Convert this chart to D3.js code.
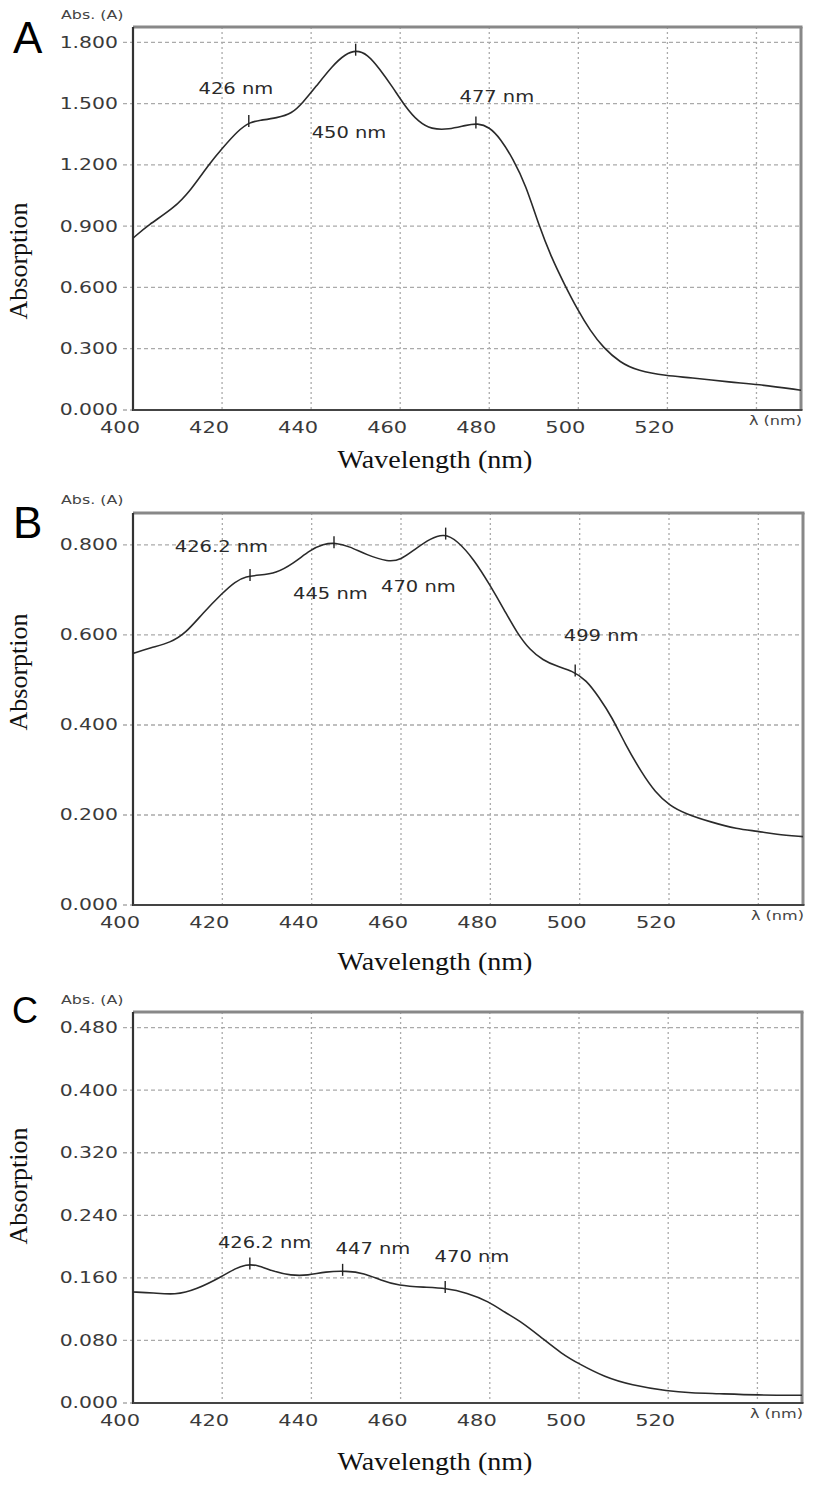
<!DOCTYPE html>
<html><head><meta charset="utf-8">
<script src="https://cdn.jsdelivr.net/npm/d3@7"></script>
<style>body{margin:0;background:#fff}</style>
</head><body>
<svg id="chart" width="827" height="1489"></svg>
<script>
// ---------- DATA ----------
const nmA  = [400,403.4,409.2,413,416.9,420,423.6,426.3,428.4,432.3,435.7,438.1,441,444.8,447.7,450.1,452.6,455.4,458.3,461.2,464.1,467,470.9,474.7,477.4,480,482.5,485.3,488.2,491.1,494,496.9,499.8,502.7,505.6,509.4,513.3,519.9,524.9,534.5,539.9,550];
const absA = [0.841,0.906,0.988,1.077,1.199,1.280,1.369,1.410,1.418,1.430,1.451,1.504,1.581,1.686,1.743,1.762,1.743,1.670,1.581,1.483,1.410,1.374,1.373,1.394,1.404,1.386,1.329,1.231,1.101,0.906,0.744,0.614,0.492,0.387,0.305,0.232,0.192,0.167,0.159,0.135,0.127,0.097];

const nmB  = [400,404,408.4,411.8,415.6,420,422.9,425.3,428.2,432,435.9,439.7,442.6,445.3,448.4,452.3,457.1,460,462.9,466.7,469.6,472.5,476.4,479.9,483.1,486,488.9,491.8,494.7,498.4,501.5,504.3,507.2,510.1,514,516.9,520.1,523.6,529.4,535.2,540,543.8,550];
const absB = [0.559,0.572,0.583,0.604,0.648,0.693,0.719,0.730,0.733,0.737,0.759,0.789,0.802,0.805,0.797,0.778,0.762,0.767,0.789,0.815,0.825,0.811,0.767,0.711,0.656,0.604,0.566,0.544,0.531,0.520,0.500,0.462,0.418,0.359,0.292,0.251,0.221,0.203,0.184,0.169,0.164,0.157,0.152];

const nmC  = [400,404.5,409.4,414.2,420,422.9,425.3,427.7,431.5,435.4,439.2,443.1,447.9,451.8,455.6,459.5,465.3,470.1,474.9,479.7,483.6,486.5,491.3,496.1,500,505.8,511.6,520.1,525.1,530.9,540.1,550];
const absC = [0.142,0.141,0.138,0.145,0.162,0.172,0.177,0.177,0.168,0.163,0.163,0.168,0.169,0.166,0.157,0.150,0.148,0.147,0.141,0.130,0.115,0.106,0.085,0.063,0.050,0.033,0.023,0.015,0.013,0.012,0.010,0.010];

// peak markers: wavelength, absorbance at peak, label text
const peaksA = [[426,1.410,"426 nm"],[450,1.759,"450 nm"],[477,1.402,"477 nm"]];
const peaksB = [[426.2,0.731,"426.2 nm"],[445,0.804,"445 nm"],[470,0.823,"470 nm"],[499,0.519,"499 nm"]];
const peaksC = [[426.2,0.177,"426.2 nm"],[447,0.169,"447 nm"],[470,0.147,"470 nm"]];
// label anchor points (data units: wavelength, absorbance)
const labelPosA = [[423.1,1.571],[448.5,1.356],[481.7,1.532]];
const labelPosB = [[419.8,0.796],[444.2,0.693],[463.9,0.707],[504.8,0.598]];
const labelPosC = [[429.5,0.205],[453.8,0.198],[476.0,0.187]];

const xTickValues = [400,420,440,460,480,500,520];
const xGridValues = [420,440,460,480,500,520,540];
const yTicksA = [0,0.3,0.6,0.9,1.2,1.5,1.8];
const yTicksB = [0,0.2,0.4,0.6,0.8];
const yTicksC = [0,0.08,0.16,0.24,0.32,0.40,0.48];
const panelLetters = ["A","B","C"];

// ---------- LAYOUT ----------
const panels = [
  {nm:nmA, abs:absA, peaks:peaksA, labels:labelPosA, yTicks:yTicksA, yMax:1.875,
   left:133, top:27, right:801, bottom:410, letterX:13, letterY:53, letterSize:44,
   absLabelY:15, xTitleY:468, yTitleY:261},
  {nm:nmB, abs:absB, peaks:peaksB, labels:labelPosB, yTicks:yTicksB, yMax:0.871,
   left:133, top:513, right:803, bottom:905, letterX:13, letterY:538, letterSize:44,
   absLabelY:500, xTitleY:970, yTitleY:672},
  {nm:nmC, abs:absC, peaks:peaksC, labels:labelPosC, yTicks:yTicksC, yMax:0.50,
   left:133, top:1012, right:802, bottom:1403, letterX:12, letterY:1023, letterSize:36,
   absLabelY:1000, xTitleY:1470, yTitleY:1186}
];

const svg = d3.select("#chart");
const SANS = "'DejaVu Sans', Verdana, sans-serif";
const SERIF = "'Liberation Serif', 'Times New Roman', serif";

function stext(parent, x, y, txt, size, sx, anchor, color) {
  const g = parent.append("g").attr("transform", `translate(${x},${y}) scale(${sx},1)`);
  g.append("text").attr("text-anchor", anchor).attr("dy", "0.36em")
    .attr("font-family", SANS).attr("font-size", size).attr("fill", color || "#333")
    .text(txt);
  return g;
}

panels.forEach((p, i) => {
  const x = d3.scaleLinear().domain([400, 550]).range([p.left, p.right]);
  const y = d3.scaleLinear().domain([0, p.yMax]).range([p.bottom, p.top]);
  const g = svg.append("g");

  // grid: horizontal
  g.selectAll(".hg").data(p.yTicks.filter(v => v > 0)).join("line")
    .attr("x1", p.left - 10).attr("x2", p.right)
    .attr("y1", d => y(d)).attr("y2", d => y(d))
    .attr("stroke", "#aaa").attr("stroke-width", 1.3).attr("stroke-dasharray", "4,3");
  // zero tick dash
  g.append("line").attr("x1", p.left - 10).attr("x2", p.left).attr("y1", y(0)).attr("y2", y(0))
    .attr("stroke", "#aaa").attr("stroke-width", 1.3).attr("stroke-dasharray", "4,3");
  // grid: vertical
  g.selectAll(".vg").data(xGridValues).join("line")
    .attr("x1", d => x(d)).attr("x2", d => x(d))
    .attr("y1", p.top).attr("y2", p.bottom)
    .attr("stroke", "#aaa").attr("stroke-width", 1.3).attr("stroke-dasharray", "2,3");

  // frame: top & right grey
  g.append("line").attr("x1", p.left).attr("x2", p.right + 1.5).attr("y1", p.top).attr("y2", p.top)
    .attr("stroke", "#888").attr("stroke-width", 3);
  g.append("line").attr("x1", p.right).attr("x2", p.right).attr("y1", p.top).attr("y2", p.bottom)
    .attr("stroke", "#888").attr("stroke-width", 3);
  // left & bottom dark axes
  g.append("line").attr("x1", p.left).attr("x2", p.left).attr("y1", p.top).attr("y2", p.bottom + 1)
    .attr("stroke", "#333").attr("stroke-width", 2.2);
  g.append("line").attr("x1", p.left).attr("x2", p.right + 1.5).attr("y1", p.bottom).attr("y2", p.bottom)
    .attr("stroke", "#444").attr("stroke-width", 2.2);

  // clip + curve
  const cid = "clip" + i;
  svg.append("clipPath").attr("id", cid).append("rect")
    .attr("x", p.left).attr("y", p.top).attr("width", p.right - p.left).attr("height", p.bottom - p.top);
  const pts = p.nm.map((v, k) => [v, p.abs[k]]);
  const line = d3.line().x(d => x(d[0])).y(d => y(d[1])).curve(d3.curveBasis);
  g.append("path").attr("clip-path", `url(#${cid})`).attr("d", line(pts))
    .attr("fill", "none").attr("stroke", "#2a2a2a").attr("stroke-width", 1.6);

  // peak markers
  g.selectAll(".pk").data(p.peaks).join("line")
    .attr("x1", d => x(d[0])).attr("x2", d => x(d[0]))
    .attr("y1", d => y(d[1]) - 7).attr("y2", d => y(d[1]) + 5)
    .attr("stroke", "#222").attr("stroke-width", 1.4);
  // peak labels
  p.peaks.forEach((d, k) => {
    stext(g, x(p.labels[k][0]), y(p.labels[k][1]), d[2], 15, 1.3, "middle", "#2a2a2a");
  });

  // y tick labels
  p.yTicks.forEach(v => {
    stext(g, 118, y(v), d3.format(".3f")(v), 15, 1.36, "end", "#3a3a3a");
  });
  // x tick labels
  xTickValues.forEach(v => {
    stext(g, x(v) - 13, p.bottom + 18, String(v), 15, 1.4, "middle", "#3a3a3a");
  });
  // lambda label
  stext(g, p.right + 1, p.bottom + 11, "λ (nm)", 11.5, 1.4, "end", "#444");
  // Abs. (A)
  stext(g, 61, p.absLabelY, "Abs. (A)", 11.5, 1.38, "start", "#444");

  // axis titles
  g.append("g").attr("transform", `translate(435,${p.xTitleY}) scale(1.08,1)`)
    .append("text").attr("text-anchor", "middle").attr("font-family", SERIF)
    .attr("font-size", 26).attr("fill", "#111").text("Wavelength (nm)");
  g.append("text").attr("transform", `translate(27,${p.yTitleY}) rotate(-90)`)
    .attr("text-anchor", "middle").attr("font-family", SERIF)
    .attr("font-size", 26).attr("fill", "#111").text("Absorption");

  // panel letter
  g.append("text").attr("x", p.letterX).attr("y", p.letterY)
    .attr("font-family", "'Liberation Sans', Arial, sans-serif").attr("font-size", p.letterSize)
    .attr("fill", "#000").text(panelLetters[i]);
});
</script>
</body></html>
